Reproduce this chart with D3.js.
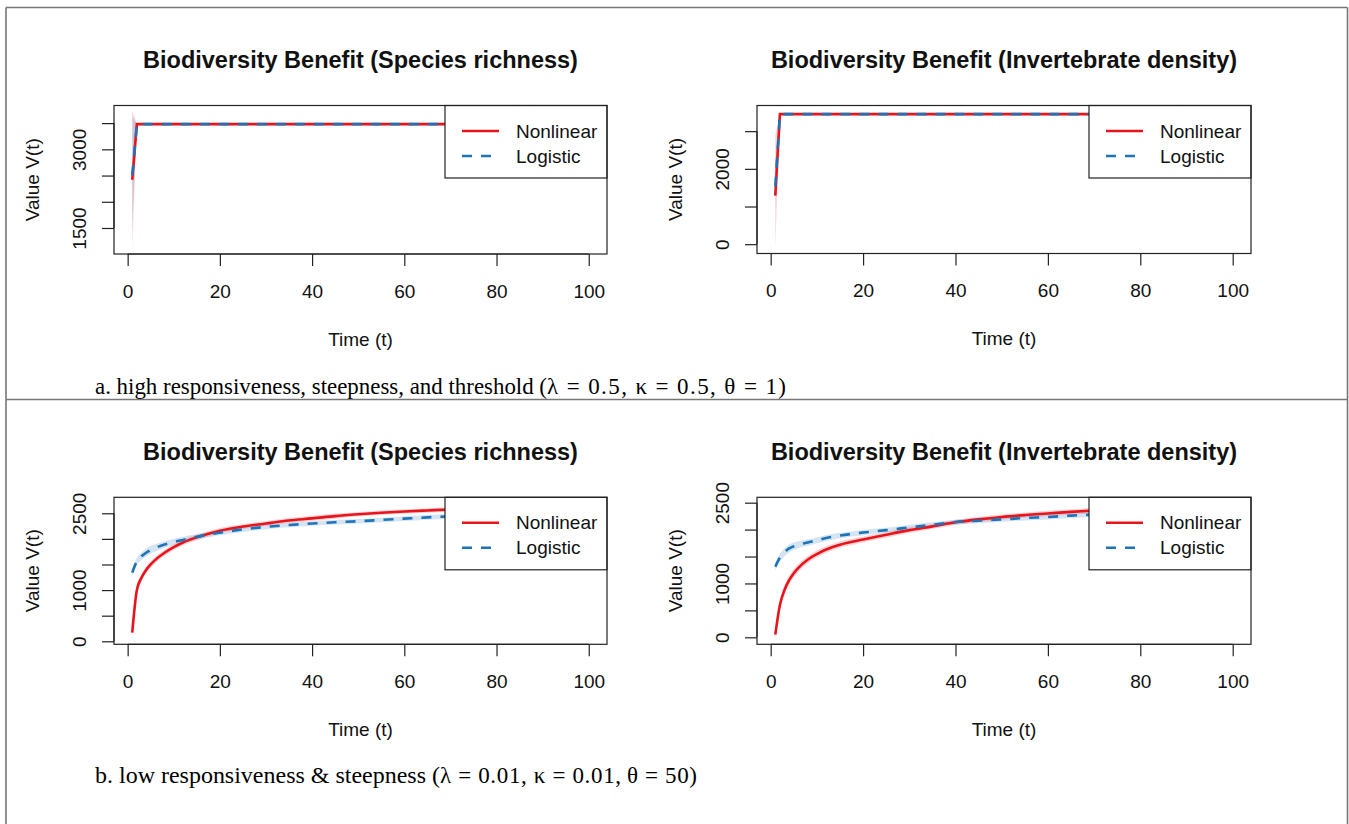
<!DOCTYPE html>
<html><head><meta charset="utf-8">
<script src="https://cdn.jsdelivr.net/npm/d3@7"></script>
<style>body{margin:0;background:#fff}svg{display:block}</style>
</head><body>
<svg id="c" width="1349" height="824"></svg>
<script>
// ---------------- data ----------------
const seriesNames = ["Nonlinear", "Logistic"];
const panelTitles = [
  "Biodiversity Benefit (Species richness)",
  "Biodiversity Benefit (Invertebrate density)",
  "Biodiversity Benefit (Species richness)",
  "Biodiversity Benefit (Invertebrate density)"
];
const captionText = [
  "a. high responsiveness, steepness, and threshold (",
  "b. low responsiveness & steepness ("
];
const captionMath = [
  "\u03BB = 0.5, \u03BA = 0.5, \u03B8 = 1)",
  "\u03BB = 0.01, \u03BA = 0.01,\u2009\u03B8 = 50)"
];
const xLabel = "Time (t)";
const yLabel = "Value V(t)";
const xTicks = [0, 20, 40, 60, 80, 100];
const xLimits = [-2.96, 103.96];

// panel a (high responsiveness) : sparse time grid
const timeA = [1, 2, 100];
const aRichNonlin   = [2420, 3480, 3480];
const aRichNonlinLo = [1110, 3470, 3470];
const aRichNonlinHi = [3730, 3490, 3490];
const aRichLogis    = [2510, 3480, 3480];
const aRichLogisLo  = [1510, 3474, 3474];
const aRichLogisHi  = [3620, 3486, 3486];

const aInvNonlin    = [1290, 3452, 3452];
const aInvNonlinLo  = [-100, 3440, 3440];
const aInvNonlinHi  = [2900, 3464, 3464];
const aInvLogis     = [1530, 3452, 3452];
const aInvLogisLo   = [1000, 3445, 3445];
const aInvLogisHi   = [2200, 3460, 3460];

// panel b (low responsiveness)
const timeB = [1,2,3,4,5,6,8,10,12,15,20,25,30,35,40,45,50,55,60,65,70,80,90,100];
const bRichNonlin   = [170,1000,1240,1390,1500,1590,1730,1840,1930,2030,2160,2240,2300,2360,2400,2445,2480,2510,2535,2555,2575,2610,2640,2665];
const bRichNonlinCI = [120,90,75,70,65,60,60,55,55,55,50,50,50,50,50,50,45,45,45,45,45,45,45,45];
const bRichLogis    = [1340,1560,1660,1730,1785,1825,1890,1940,1980,2040,2120,2185,2235,2270,2300,2325,2345,2370,2395,2420,2440,2465,2485,2500];
const bRichLogisCI  = [60,70,75,75,75,70,65,60,60,55,50,50,45,45,45,45,45,45,45,45,45,45,45,45];

const bInvNonlin    = [50,600,880,1060,1190,1290,1440,1545,1630,1720,1815,1905,1990,2060,2135,2190,2235,2270,2300,2330,2355,2395,2425,2450];
const bInvNonlinCI  = [80,90,90,85,80,75,70,65,60,60,55,55,55,50,50,50,50,50,50,50,50,50,50,50];
const bInvLogis     = [1310,1480,1580,1650,1690,1720,1760,1800,1845,1890,1945,1990,2040,2090,2140,2165,2190,2215,2235,2260,2280,2310,2340,2365];
const bInvLogisCI   = [60,70,75,75,70,65,60,55,55,50,50,45,45,45,45,45,45,45,45,45,45,45,45,45];

// axis settings per panel
const yLimits = [[1004, 3836], [-247, 3681], [-59, 2812], [-130, 2600]];
const yTicks = [[1500, 2000, 2500, 3000, 3500], [0, 1000, 2000, 3000], [0, 500, 1000, 1500, 2000, 2500], [0, 500, 1000, 1500, 2000, 2500]];
const yTickLabels = [[1500, 3000], [0, 2000], [0, 1000, 2500], [0, 1000, 2500]];

// ---------------- build ----------------
const RED = "#e8141c", BLUE = "#1f74b8";
const RED_BAND = "rgba(240,60,70,0.22)", BLUE_BAND = "rgba(60,130,200,0.22)";
const DASH = "10,9";
const FONT = "'Liberation Sans', Arial, sans-serif";
const SERIF = "'Liberation Serif', 'Times New Roman', serif";

function bandFromCI(t, v, ci) { return t.map((d, i) => ({t: d, lo: v[i] - ci[i], hi: v[i] + ci[i]})); }
function bandFromLoHi(t, lo, hi) { return t.map((d, i) => ({t: d, lo: lo[i], hi: hi[i]})); }
function pts(t, v) { return t.map((d, i) => ({t: d, v: v[i]})); }

const panels = [
  {box: [114, 105.5, 607, 254], curve: d3.curveLinear,
   nl: pts(timeA, aRichNonlin), lg: pts(timeA, aRichLogis),
   nlb: bandFromLoHi(timeA, aRichNonlinLo, aRichNonlinHi), lgb: bandFromLoHi(timeA, aRichLogisLo, aRichLogisHi)},
  {box: [757, 105.5, 1251, 253.5], curve: d3.curveLinear,
   nl: pts(timeA, aInvNonlin), lg: pts(timeA, aInvLogis),
   nlb: bandFromLoHi(timeA, aInvNonlinLo, aInvNonlinHi), lgb: bandFromLoHi(timeA, aInvLogisLo, aInvLogisHi)},
  {box: [114, 497.3, 607, 644.3], curve: d3.curveMonotoneX,
   nl: pts(timeB, bRichNonlin), lg: pts(timeB, bRichLogis),
   nlb: bandFromCI(timeB, bRichNonlin, bRichNonlinCI), lgb: bandFromCI(timeB, bRichLogis, bRichLogisCI)},
  {box: [757, 497.3, 1251, 644.3], curve: d3.curveMonotoneX,
   nl: pts(timeB, bInvNonlin), lg: pts(timeB, bInvLogis),
   nlb: bandFromCI(timeB, bInvNonlin, bInvNonlinCI), lgb: bandFromCI(timeB, bInvLogis, bInvLogisCI)}
];

const svg = d3.select("#c");
svg.append("rect").attr("width", 1349).attr("height", 824).attr("fill", "#fff");

// frame lines
const frame = svg.append("g").attr("stroke", "#777").attr("stroke-width", 1.6).attr("fill", "none");
frame.append("line").attr("x1", 6).attr("x2", 1347.5).attr("y1", 7.5).attr("y2", 7.5);
frame.append("line").attr("x1", 6).attr("x2", 6).attr("y1", 7.5).attr("y2", 824);
frame.append("line").attr("x1", 1347.5).attr("x2", 1347.5).attr("y1", 7.5).attr("y2", 824);
frame.append("line").attr("x1", 6).attr("x2", 1347.5).attr("y1", 399.5).attr("y2", 399.5);

panels.forEach((p, i) => {
  const [x0, y0, x1, y1] = p.box;
  const x = d3.scaleLinear().domain(xLimits).range([x0, x1]);
  const y = d3.scaleLinear().domain(yLimits[i]).range([y1, y0]);
  const g = svg.append("g");
  const cid = "clip" + i;
  svg.append("clipPath").attr("id", cid).append("rect")
    .attr("x", x0).attr("y", y0).attr("width", x1 - x0).attr("height", y1 - y0);
  const plot = g.append("g").attr("clip-path", `url(#${cid})`);

  const area = d3.area().x(d => x(d.t)).y0(d => y(d.lo)).y1(d => y(d.hi)).curve(p.curve);
  const line = d3.line().x(d => x(d.t)).y(d => y(d.v)).curve(p.curve);

  plot.append("path").attr("d", area(p.nlb)).attr("fill", RED_BAND);
  plot.append("path").attr("d", area(p.lgb)).attr("fill", BLUE_BAND);
  plot.append("path").attr("d", line(p.nl)).attr("fill", "none").attr("stroke", RED).attr("stroke-width", 2.6);
  plot.append("path").attr("d", line(p.lg)).attr("fill", "none").attr("stroke", BLUE).attr("stroke-width", 2.6)
    .attr("stroke-dasharray", DASH);

  // axes
  const xa = g.append("g").attr("transform", `translate(0,${y1})`)
    .call(d3.axisBottom(x).tickValues(xTicks).tickSize(12).tickSizeOuter(0));
  xa.select(".domain").attr("d", `M${x(xTicks[0])},0H${x(xTicks[xTicks.length - 1])}`);
  xa.selectAll("line").attr("stroke", "#222").attr("stroke-width", 1.2);
  xa.selectAll("text").attr("y", 37).attr("dy", "0.35em")
    .attr("font-family", FONT).attr("font-size", 19).attr("fill", "#111");

  const labs = yTickLabels[i];
  const ya = g.append("g").attr("transform", `translate(${x0},0)`)
    .call(d3.axisLeft(y).tickValues(yTicks[i]).tickSize(12).tickSizeOuter(0)
      .tickFormat(d => labs.includes(d) ? String(d) : ""));
  const yt = yTicks[i];
  ya.select(".domain").attr("d", `M0,${y(yt[0])}V${y(yt[yt.length - 1])}`);
  ya.selectAll("line").attr("stroke", "#222").attr("stroke-width", 1.2);
  ya.selectAll("text").attr("transform", "rotate(-90)").attr("x", 0).attr("y", -35).attr("dy", "0.35em")
    .attr("text-anchor", "middle").attr("font-family", FONT).attr("font-size", 19).attr("fill", "#111");
  g.selectAll(".domain").attr("stroke", "#222").attr("stroke-width", 1.2);

  // legend
  const lw = 162, lh = 72.5;
  const lx = x1 - lw, ly = y0;
  const leg = g.append("g");
  leg.append("rect").attr("x", lx).attr("y", ly).attr("width", lw).attr("height", lh)
    .attr("fill", "#fff").attr("stroke", "#222").attr("stroke-width", 1.2);
  seriesNames.forEach((s, k) => {
    const yy = ly + 25.5 + k * 25;
    leg.append("line").attr("x1", lx + 17).attr("x2", lx + 54).attr("y1", yy).attr("y2", yy)
      .attr("stroke", k === 0 ? RED : BLUE).attr("stroke-width", 2.6)
      .attr("stroke-dasharray", k === 0 ? null : DASH);
    leg.append("text").attr("x", lx + 71).attr("y", yy).attr("dy", "0.35em")
      .attr("font-family", FONT).attr("font-size", 19).attr("fill", "#111").text(s);
  });

  // box
  g.append("rect").attr("x", x0).attr("y", y0).attr("width", x1 - x0).attr("height", y1 - y0)
    .attr("fill", "none").attr("stroke", "#222").attr("stroke-width", 1.2);

  // titles / labels
  const cx = (x0 + x1) / 2;
  g.append("text").attr("x", cx).attr("y", y0 - 46).attr("dy", "0.35em").attr("text-anchor", "middle")
    .attr("font-family", FONT).attr("font-weight", "bold").attr("font-size", 23.5).attr("fill", "#111")
    .text(panelTitles[i]);
  g.append("text").attr("x", cx).attr("y", y1 + 85).attr("dy", "0.35em").attr("text-anchor", "middle")
    .attr("font-family", FONT).attr("font-size", 19).attr("fill", "#111").text(xLabel);
  const lyc = (y0 + y1) / 2;
  g.append("text").attr("transform", `translate(${x0 - 82},${lyc}) rotate(-90)`).attr("dy", "0.35em")
    .attr("text-anchor", "middle").attr("font-family", FONT).attr("font-size", 19).attr("fill", "#111")
    .text(yLabel);
});

// captions: text part + math part (wider spacing, like an equation font)
const capPos = [
  {y: 394, textEnd: 547, mathEnd: 786},
  {y: 783, textEnd: 440, mathEnd: 697}
];
captionText.forEach((c, k) => {
  const t = svg.append("text").attr("y", capPos[k].y).attr("font-family", SERIF)
    .attr("font-size", 23).attr("fill", "#000");
  t.append("tspan").attr("x", 95).attr("textLength", capPos[k].textEnd - 95)
    .attr("lengthAdjust", "spacingAndGlyphs").text(c);
  t.append("tspan").attr("x", capPos[k].textEnd).attr("textLength", capPos[k].mathEnd - capPos[k].textEnd)
    .attr("lengthAdjust", "spacing").text(captionMath[k]);
});
</script>
</body></html>
